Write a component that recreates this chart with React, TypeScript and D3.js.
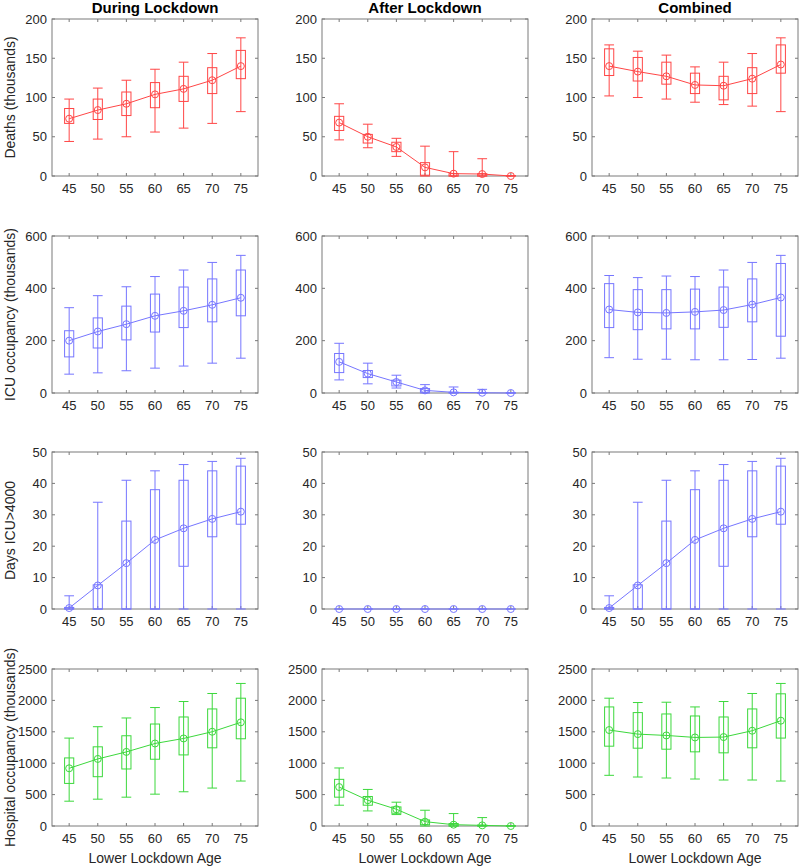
import React from 'react';
import * as d3 from 'd3';

// each entry: [min, q1, median, q3, max] per lower lockdown age
const ages = [45, 50, 55, 60, 65, 70, 75];
const columnTitles = ['During Lockdown', 'After Lockdown', 'Combined'];

const deathsDuring = [
  [44, 67, 73, 86, 98], [47, 72, 84, 98, 112], [50, 77, 92, 107, 122], [56, 87, 104, 119, 136],
  [61, 95, 111, 127, 145], [67, 105, 122, 138, 156], [82, 124, 140, 160, 176],
];
const deathsAfter = [
  [46, 58, 68, 76, 92], [36, 42, 50, 53, 66], [25, 31, 37, 43, 48], [0, 1, 11, 17, 38],
  [0, 0, 3, 3, 31], [0, 0, 2.5, 3, 22], [0, 0, 0, 0.5, 0.5],
];
const deathsCombined = [
  [102, 128, 140, 162, 167], [100, 121, 133, 151, 159], [98, 117, 127, 145, 154], [94, 105, 116, 131, 139],
  [91, 97, 115, 127, 145], [89, 105, 124, 138, 156], [82, 131, 142, 167, 176],
];

const icuDuring = [
  [72, 138, 200, 238, 326], [77, 172, 235, 287, 372], [85, 203, 263, 332, 406], [95, 233, 295, 378, 445],
  [103, 250, 314, 405, 470], [114, 272, 337, 436, 499], [133, 295, 364, 470, 526],
];
const icuAfter = [
  [50, 78, 119, 151, 190], [35, 59, 74, 86, 114], [19, 27, 42, 49, 68], [0, 3, 10, 17, 32],
  [0, 0, 2.5, 3, 23], [0, 0, 1, 2, 14], [0, 0, 0, 0.5, 0.5],
];
const icuCombined = [
  [135, 250, 319, 418, 449], [129, 242, 308, 395, 441], [129, 245, 306, 395, 447], [127, 245, 310, 397, 445],
  [127, 251, 317, 405, 470], [128, 272, 338, 436, 499], [133, 217, 365, 495, 526],
];

const daysDuring = [
  [0, 0, 0.3, 0.5, 4.2], [0, 0, 7.5, 7.7, 34], [0, 0, 14.6, 28, 41], [0, 0, 22, 38, 44],
  [0, 13.6, 25.7, 41, 46], [0, 23, 28.7, 44, 47], [0, 27, 31, 45.5, 48],
];
const daysAfter = [
  [0, 0, 0, 0, 0], [0, 0, 0, 0, 0], [0, 0, 0, 0, 0], [0, 0, 0, 0, 0],
  [0, 0, 0, 0, 0], [0, 0, 0, 0, 0], [0, 0, 0, 0, 0],
];
const daysCombined = [
  [0, 0, 0.3, 0.5, 4.2], [0, 0, 7.5, 7.7, 34], [0, 0, 14.6, 28, 41], [0, 0, 22, 38, 44],
  [0, 13.6, 25.7, 41, 46], [0, 23, 28.7, 44, 47], [0, 27, 31, 45.5, 48],
];

const hospDuring = [
  [395, 678, 919, 1084, 1400], [427, 785, 1068, 1261, 1581], [459, 908, 1180, 1437, 1720], [507, 1063, 1314, 1624, 1886],
  [545, 1132, 1394, 1736, 1982], [604, 1245, 1501, 1864, 2110], [716, 1389, 1651, 2035, 2270],
];
const hospAfter = [
  [331, 459, 620, 743, 924], [240, 331, 411, 470, 582], [182, 203, 267, 304, 379], [0, 21, 69, 96, 251],
  [0, 0, 21, 40, 198], [0, 0, 10, 15, 134], [0, 0, 0, 2, 2],
];
const hospCombined = [
  [807, 1271, 1528, 1896, 2035], [780, 1239, 1463, 1806, 1966], [764, 1223, 1442, 1784, 1971], [748, 1181, 1410, 1752, 1896],
  [732, 1165, 1416, 1736, 1982], [732, 1245, 1517, 1864, 2110], [716, 1400, 1677, 2105, 2270],
];

const rowLabels = ['Deaths (thousands)', 'ICU occupancy (thousands)', 'Days ICU>4000', 'Hospital occupancy (thousands)'];
const rowMax = [200, 600, 50, 2500];
const rowStep = [50, 200, 10, 500];
const rowColors = ['#ff4646', '#7676ff', '#7676ff', '#3cd83c'];
const rowData = [
  [deathsDuring, deathsAfter, deathsCombined],
  [icuDuring, icuAfter, icuCombined],
  [daysDuring, daysAfter, daysCombined],
  [hospDuring, hospAfter, hospCombined],
];

const colLeft = [52, 322, 592];
const rowTop = [19, 236, 452, 669];
const W = 206;
const H = 157;
const FONT = '"Liberation Sans", Arial, Helvetica, sans-serif';
const TXT = '#262626';
const FRAME = '#7a7a7a';

function Panel({ r, c }: { r: number; c: number }) {
  const data = rowData[r][c];
  const color = rowColors[r];
  const x = d3.scaleLinear().domain([42, 78]).range([0, W]);
  const y = d3.scaleLinear().domain([0, rowMax[r]]).range([H, 0]);
  const yTicks = d3.range(0, rowMax[r] + 1e-9, rowStep[r]);
  const half = x(45.8) - x(45);
  const capHalf = x(45.85) - x(45);
  const line = d3.line<number[]>()
    .x((d, i) => x(ages[i]))
    .y((d) => y(d[2]));

  return (
    <g transform={`translate(${colLeft[c]},${rowTop[r]})`}>
      {yTicks.map((t) => (
        <g key={'y' + t}>
          <line x1={0} x2={3} y1={y(t)} y2={y(t)} stroke={FRAME} />
          <line x1={W - 3} x2={W} y1={y(t)} y2={y(t)} stroke={FRAME} />
          <text x={-5} y={y(t)} dy="0.35em" textAnchor="end" fontSize={13} fill={TXT}>{t}</text>
        </g>
      ))}
      {ages.map((a) => (
        <g key={'x' + a}>
          <line x1={x(a)} x2={x(a)} y1={H} y2={H - 3} stroke={FRAME} />
          <line x1={x(a)} x2={x(a)} y1={0} y2={3} stroke={FRAME} />
          <text x={x(a)} y={H + 17} textAnchor="middle" fontSize={13} fill={TXT}>{a}</text>
        </g>
      ))}
      <rect x={0} y={0} width={W} height={H} fill="none" stroke={FRAME} />
      {data.map((d, i) => {
        const cx = x(ages[i]);
        return (
          <g key={'b' + i} stroke={color} fill="none" strokeWidth={1}>
            <line x1={cx} x2={cx} y1={y(d[0])} y2={y(d[4])} />
            <line x1={cx - capHalf} x2={cx + capHalf} y1={y(d[0])} y2={y(d[0])} />
            <line x1={cx - capHalf} x2={cx + capHalf} y1={y(d[4])} y2={y(d[4])} />
            <rect x={cx - half} width={half * 2} y={y(d[3])} height={Math.max(0, y(d[1]) - y(d[3]))} />
          </g>
        );
      })}
      <path d={line(data) || ''} fill="none" stroke={color} strokeWidth={1} />
      {data.map((d, i) => (
        <circle key={'m' + i} cx={x(ages[i])} cy={y(d[2])} r={3.5} fill="none" stroke={color} strokeWidth={1} />
      ))}
      {c === 0 && (
        <text transform={`translate(${-37},${H / 2}) rotate(-90)`} textAnchor="middle" fontSize={14} fill={TXT}>
          {rowLabels[r]}
        </text>
      )}
      {r === 0 && (
        <text x={W / 2} y={-6} textAnchor="middle" fontSize={15} fontWeight="bold" fill="#000">
          {columnTitles[c]}
        </text>
      )}
      {r === 3 && (
        <text x={W / 2} y={H + 37} textAnchor="middle" fontSize={14} fill={TXT}>
          Lower Lockdown Age
        </text>
      )}
    </g>
  );
}

export default function App() {
  return (
    <svg width={800} height={866} style={{ position: 'absolute', left: 0, top: 0, background: '#fff' }} fontFamily={FONT}>
      {rowData.map((row, r) => row.map((_, c) => <Panel key={r + '-' + c} r={r} c={c} />))}
    </svg>
  );
}
